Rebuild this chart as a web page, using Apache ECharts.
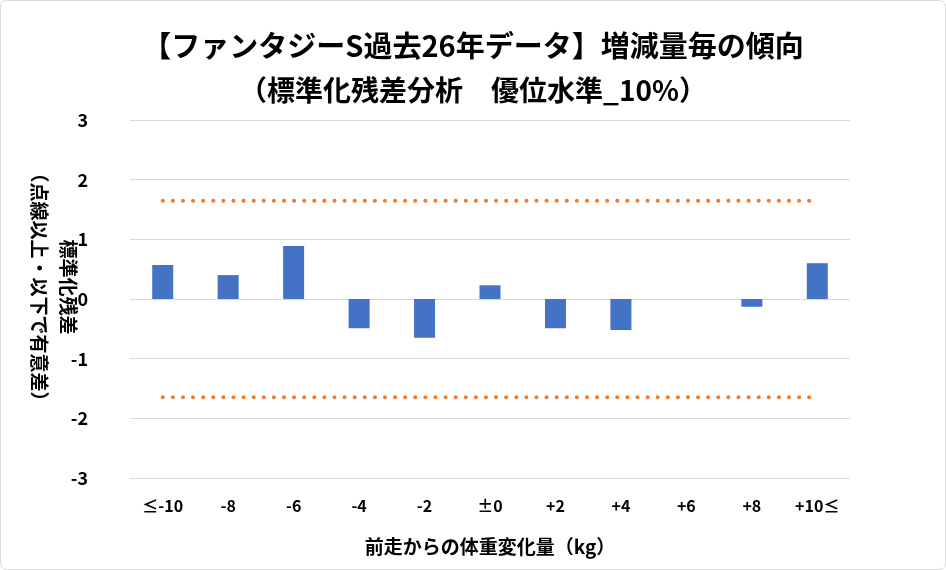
<!DOCTYPE html>
<html><head><meta charset="utf-8">
<script src="https://cdn.jsdelivr.net/npm/echarts@6/dist/echarts.min.js"></script>
<style>html,body{margin:0;padding:0;background:#fff;}#c{width:946px;height:570px;}</style>
</head><body><div id="c"></div>
<script>
const categories = ['≤-10','-8','-6','-4','-2','±0','+2','+4','+6','+8','+10≤'];
const residuals = [0.57, 0.40, 0.89, -0.49, -0.65, 0.23, -0.49, -0.52, 0, -0.13, 0.60];
const upperLimit = [1.645,1.645,1.645,1.645,1.645,1.645,1.645,1.645,1.645,1.645,1.645];
const lowerLimit = [-1.645,-1.645,-1.645,-1.645,-1.645,-1.645,-1.645,-1.645,-1.645,-1.645,-1.645];
const titleLine1 = '【ファンタジーS過去26年データ】増減量毎の傾向';
const titleLine2 = '（標準化残差分析　優位水準_10%）';
const yName = '標準化残差\n（点線以上・以下で有意差）';
const xName = '前走からの体重変化量（kg）';

const FF = '"Noto Sans CJK JP", "Noto Sans", sans-serif';
const chart = echarts.init(document.getElementById('c'));
const dotted = {color:'#ed7d31', width:4, type:[0.1, 10], cap:'round'};
chart.setOption({
  animation:false,
  title:{text:'{a|' + titleLine1 + '}\n{b|' + titleLine2 + '}', left:'center', top:18,
    textStyle:{fontFamily:FF, fontWeight:'bold', fontSize:28, color:'#000',
      rich:{a:{fontFamily:FF, fontWeight:'bold', fontSize:29, lineHeight:45, color:'#000'},
            b:{fontFamily:FF, fontWeight:'bold', fontSize:28, lineHeight:45, color:'#000'}}}},
  graphic:[
    {type:'rect', shape:{x:0.5,y:0.5,width:945,height:569,r:6},
      style:{fill:'none', stroke:'#d9d9d9', lineWidth:1}, silent:true},
    {type:'text', x:54, y:287, rotation:-Math.PI/2, silent:true,
      style:{text:yName, fontFamily:FF, fontWeight:'bold', fontSize:19, lineHeight:29,
        fill:'#000', align:'center', verticalAlign:'middle'}}
  ],
  grid:{left:130, right:96, top:120, bottom:92, containLabel:false, outerBoundsMode:'none'},
  xAxis:{type:'category', data:categories, position:'bottom',
    axisLine:{show:false}, axisTick:{show:false},
    axisLabel:{margin:20, fontFamily:FF, fontWeight:'bold', fontSize:16, color:'#000'},
    name:xName, nameLocation:'middle', nameGap:59,
    nameTextStyle:{fontFamily:FF, fontWeight:'bold', fontSize:19, color:'#000'}},
  yAxis:{type:'value', min:-3, max:3, interval:1,
    axisLine:{show:false}, axisTick:{show:false},
    splitLine:{lineStyle:{color:'#d9d9d9', width:1}},
    axisLabel:{margin:42, fontFamily:FF, fontWeight:'bold', fontSize:18, color:'#000'}},
  series:[
    {type:'bar', data:residuals, barWidth:21, itemStyle:{color:'#4472c4'}},
    {type:'line', data:upperLimit, symbol:'none', lineStyle:dotted, silent:true},
    {type:'line', data:lowerLimit, symbol:'none', lineStyle:dotted, silent:true}
  ]
});
</script></body></html>
